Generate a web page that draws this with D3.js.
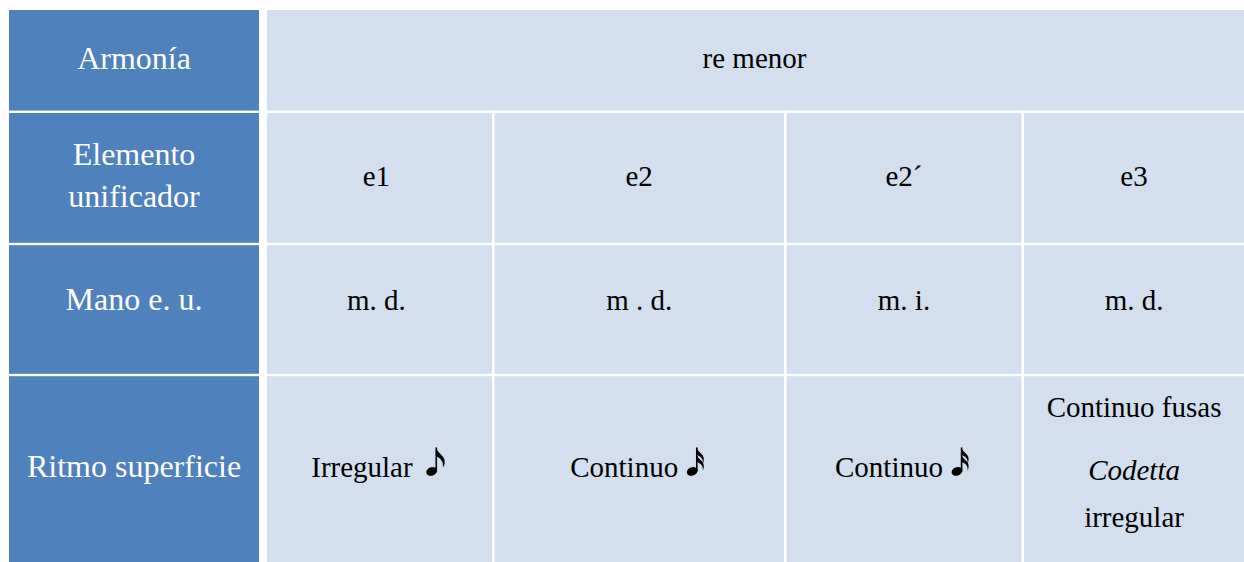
<!DOCTYPE html>
<html><head><meta charset="utf-8">
<script src="https://cdn.jsdelivr.net/npm/d3@7"></script>
<style>html,body{margin:0;padding:0;background:#fff;}svg{display:block;}</style>
</head><body>
<svg id="c" width="1244" height="562"></svg>
<script>
// ---- data ----
const rowHeaders = [["Armonía"], ["Elemento", "unificador"], ["Mano e. u."], ["Ritmo superficie"]];
const harmony = "re menor";
const elements = ["e1", "e2", "e2´", "e3"];
const hands = ["m. d.", "m . d.", "m. i.", "m. d."];
const rhythmText = ["Irregular", "Continuo", "Continuo", null];
const rhythmNote = [1, 2, 2, 0]; // number of flags: 1 = corchea, 2 = semicorchea
const rhythmLastCell = [{t: "Continuo fusas", italic: false}, {t: "Codetta", italic: true}, {t: "irregular", italic: false}];

// ---- layout ----
const W = 1244, H = 562;
const rowEdges = [10, 111.8, 244, 375, 562];
const rowShift = [0, 0, -7.5, 0];
const gapY = 2.4;
const headX0 = 9, headX1 = 259;
const colEdges = [267, 493.2, 785.2, 1022.8, 1244];
const gapX = 2.6;
const blue = "#4F81BD", light = "#D3DFEE";
const font = "'Liberation Serif','Times New Roman',serif";
const headSize = 32, bodySize = 29;

const svg = d3.select("#c");
svg.append("rect").attr("width", W).attr("height", H).attr("fill", "#fff");

const rowTop = i => i === 0 ? rowEdges[0] : rowEdges[i] + gapY / 2;
const rowBot = i => i === rowEdges.length - 2 ? rowEdges[i + 1] : rowEdges[i + 1] - gapY / 2;
const colL = j => j === 0 ? colEdges[0] : colEdges[j] + gapX / 2;
const colR = j => j === colEdges.length - 2 ? colEdges[j + 1] : colEdges[j + 1] - gapX / 2;
const rowMid = i => (rowTop(i) + rowBot(i)) / 2 + rowShift[i];
const colMid = j => (colL(j) + colR(j)) / 2;

// header cells
svg.selectAll("rect.h").data(rowHeaders).join("rect").attr("class", "h")
  .attr("x", headX0).attr("width", headX1 - headX0)
  .attr("y", (d, i) => rowTop(i)).attr("height", (d, i) => rowBot(i) - rowTop(i))
  .attr("fill", blue);

// header texts
const lh = 42;
rowHeaders.forEach((lines, i) => {
  const cy = rowMid(i);
  lines.forEach((t, k) => {
    svg.append("text").attr("x", (headX0 + headX1) / 2)
      .attr("y", cy + (k - (lines.length - 1) / 2) * lh + headSize * 0.26)
      .attr("text-anchor", "middle").attr("fill", "#fff")
      .attr("font-family", font).attr("font-size", headSize).text(t);
  });
});

// body row 0: merged cell
svg.append("rect").attr("x", colL(0)).attr("y", rowTop(0)).attr("width", colEdges[4] - colL(0))
  .attr("height", rowBot(0) - rowTop(0)).attr("fill", light);
svg.append("text").attr("x", (colEdges[0] + colEdges[4]) / 2 - 1).attr("y", rowMid(0) + bodySize * 0.27)
  .attr("text-anchor", "middle").attr("font-family", font).attr("font-size", bodySize)
  .attr("fill", "#000").text(harmony);

// body rows 1-3 cells
for (let i = 1; i < 4; i++) {
  for (let j = 0; j < 4; j++) {
    svg.append("rect").attr("x", colL(j)).attr("y", rowTop(i))
      .attr("width", colR(j) - colL(j)).attr("height", rowBot(i) - rowTop(i)).attr("fill", light);
  }
}
function cellText(i, j, t) {
  svg.append("text").attr("x", colMid(j) - (j === 0 ? 3 : 0)).attr("y", rowMid(i) + bodySize * 0.27)
    .attr("text-anchor", "middle").attr("font-family", font).attr("font-size", bodySize)
    .attr("fill", "#000").text(t);
}
elements.forEach((t, j) => cellText(1, j, t));
hands.forEach((t, j) => cellText(2, j, t));

// note glyph drawn as shapes
function drawNote(g, x, base, flags) {
  const hx = x + 5, hy = base - 5.5;
  g.append("ellipse").attr("cx", hx).attr("cy", hy).attr("rx", 5.6).attr("ry", 4.2)
    .attr("transform", `rotate(-22 ${hx} ${hy})`).attr("fill", "#000");
  const sx = x + 9.6, sy = base - 29.5;
  g.append("rect").attr("x", sx - 0.8).attr("y", sy).attr("width", 1.6).attr("height", hy - sy).attr("fill", "#000");
  if (flags === 1) {
    g.append("path").attr("d",
      `M${sx},${sy} C${sx + 1},${sy + 6} ${sx + 9},${sy + 8} ${sx + 8.5},${sy + 15} C${sx + 8.3},${sy + 17} ${sx + 7.5},${sy + 19} ${sx + 6.5},${sy + 20}
       C${sx + 7.5},${sy + 15} ${sx + 5},${sy + 11} ${sx},${sy + 9} Z`).attr("fill", "#000");
  } else {
    [0, 7].forEach(o => {
      g.append("path").attr("d",
        `M${sx},${sy + o} C${sx + 1},${sy + o + 5} ${sx + 7.5},${sy + o + 6} ${sx + 7},${sy + o + 12} C${sx + 7},${sy + o + 13.5} ${sx + 6.5},${sy + o + 15} ${sx + 6},${sy + o + 16}
         C${sx + 6.5},${sy + o + 11} ${sx + 4},${sy + o + 9} ${sx},${sy + o + 7.5} Z`).attr("fill", "#000");
    });
  }
}

rhythmText.forEach((t, j) => {
  if (t === null) return;
  const base = rowMid(3) + bodySize * 0.27;
  const g = svg.append("g");
  const tx = g.append("text").attr("x", 0).attr("y", base).attr("font-family", font)
    .attr("font-size", bodySize).attr("fill", "#000").text(t);
  const w = tx.node().getComputedTextLength();
  const gap = rhythmNote[j] === 1 ? 14 : 9;
  const total = w + gap + 17;
  const x0 = colMid(j) - total / 2 - 2;
  tx.attr("x", x0);
  drawNote(g, x0 + w + gap, base, rhythmNote[j]);
});

// last cell multi-line
const lastBases = [416.5, 479.8, 526.5];
rhythmLastCell.forEach((d, k) => {
  svg.append("text").attr("x", colMid(3)).attr("y", lastBases[k])
    .attr("text-anchor", "middle").attr("font-family", font).attr("font-size", bodySize)
    .attr("font-style", d.italic ? "italic" : "normal").attr("fill", "#000").text(d.t);
});
</script>
</body></html>
